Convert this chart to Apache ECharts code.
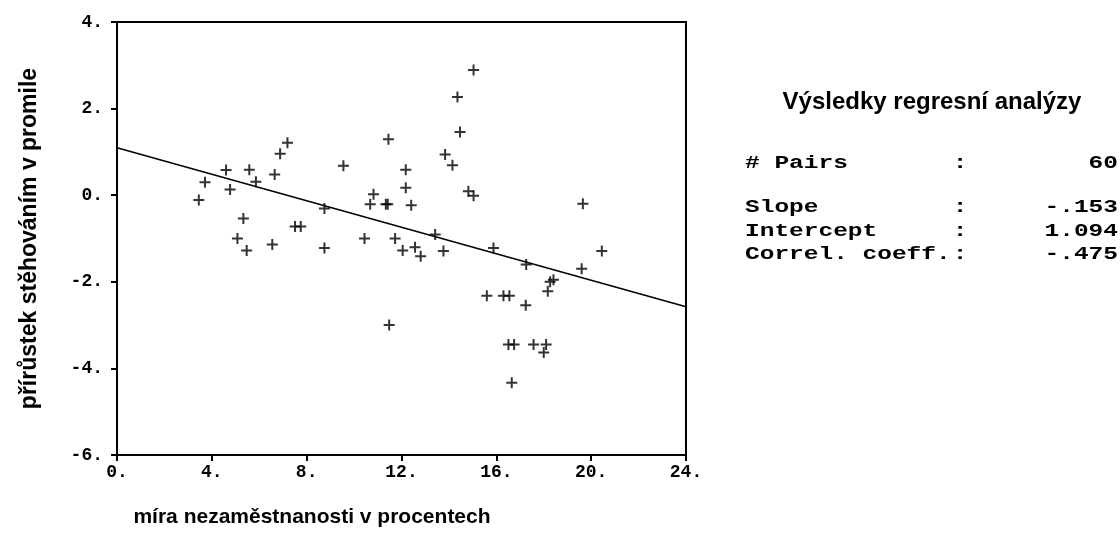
<!DOCTYPE html>
<html><head><meta charset="utf-8">
<script src="https://cdn.jsdelivr.net/npm/echarts@6/dist/echarts.min.js"></script>
<style>html,body{margin:0;padding:0;background:#fff}#c{width:1120px;height:545px}</style>
</head><body><div id="c"></div>
<script>
const xVals = [3.45,3.71,4.6,4.77,5.08,5.33,5.47,5.58,5.86,6.55,6.65,6.88,7.19,7.51,7.75,8.75,8.75,9.55,10.44,10.68,10.82,11.34,11.42,11.45,11.48,11.73,12.05,12.18,12.18,12.41,12.57,12.81,13.42,13.77,13.84,14.15,14.36,14.47,14.82,15.04,15.04,15.6,15.88,16.3,16.51,16.55,16.65,16.75,17.24,17.26,17.57,18.0,18.1,18.17,18.27,18.41,19.6,19.65,20.45];
const yVals = [-0.11,0.30,0.58,0.13,-1.0,-0.54,-1.28,0.59,0.31,-1.14,0.48,0.96,1.21,-0.72,-0.72,-0.31,-1.22,0.68,-1.0,-0.21,0.02,-0.21,-0.21,1.29,-3.0,-1.0,-1.28,0.59,0.17,-0.23,-1.2,-1.41,-0.91,-1.29,0.94,0.69,2.27,1.46,0.09,-0.01,2.89,-2.32,-1.22,-2.32,-3.45,-2.32,-4.33,-3.45,-2.54,-1.6,-3.45,-3.63,-3.45,-2.22,-2.0,-1.95,-1.7,-0.2,-1.29];
const slope = -0.153, intercept = 1.094;
const statsTitle = 'Výsledky regresní analýzy';
const statLabels = ['# Pairs', 'Slope', 'Intercept', 'Correl. coeff.'];
const statValues = ['60', '-.153', '1.094', '-.475'];
const xTitle = 'míra nezaměstnanosti v procentech';
const yTitle = 'přírůstek stěhováním v promile';

const pts = xVals.map((x,i)=>[x,yVals[i]]);
const lineData = [[0, intercept],[24, intercept + slope*24]];
const mono = '"Liberation Mono","DejaVu Sans Mono",monospace';
const sans = '"Liberation Sans",Arial,sans-serif';
const lbl = v => (v < 0 ? '-' + Math.abs(v) : String(v)) + '.';
const statY = [163, 207, 231, 254];
const SX = 1.36;
const graphics = [
  {type:'text', x:932, y:102, style:{text:statsTitle, font:'bold 24px '+sans, fill:'#000', textAlign:'center', textVerticalAlign:'middle'}},
  {type:'text', x:312, y:517, style:{text:xTitle, font:'bold 21px '+sans, fill:'#000', textAlign:'center', textVerticalAlign:'middle'}}
];
statLabels.forEach((s,i)=>{
  graphics.push({type:'text', x:745, y:statY[i], scaleX:SX, style:{text:s, font:'bold 18px '+mono, fill:'#000', textAlign:'left', textVerticalAlign:'middle'}});
  graphics.push({type:'text', x:960, y:statY[i], scaleX:SX, style:{text:':', font:'bold 18px '+mono, fill:'#000', textAlign:'center', textVerticalAlign:'middle'}});
  graphics.push({type:'text', x:1118, y:statY[i], scaleX:SX, style:{text:statValues[i], font:'bold 18px '+mono, fill:'#000', textAlign:'right', textVerticalAlign:'middle'}});
});
const chart = echarts.init(document.getElementById('c'));
chart.setOption({
  animation:false,
  backgroundColor:'#fff',
  grid:{left:117, right:434, top:22, bottom:90, show:true, borderColor:'#000', borderWidth:2, backgroundColor:'transparent'},
  xAxis:{type:'value', min:0, max:24, interval:4,
    axisLine:{show:true, onZero:false, lineStyle:{color:'#000', width:2}},
    axisTick:{show:true, length:6, lineStyle:{color:'#000', width:2}},
    splitLine:{show:false},
    axisLabel:{formatter:lbl, color:'#000', fontFamily:mono, fontWeight:'bold', fontSize:18, margin:8}
  },
  yAxis:{type:'value', min:-6, max:4, interval:2,
    name:yTitle, nameLocation:'middle', nameGap:76, nameRotate:90,
    nameTextStyle:{color:'#000', fontFamily:sans, fontWeight:'bold', fontSize:23},
    axisLine:{show:true, onZero:false, lineStyle:{color:'#000', width:2}},
    axisTick:{show:true, length:6, lineStyle:{color:'#000', width:2}},
    splitLine:{show:false},
    axisLabel:{formatter:lbl, color:'#000', fontFamily:mono, fontWeight:'bold', fontSize:18, margin:14}
  },
  graphic:graphics,
  series:[
    {type:'scatter', data:pts, symbol:'path://M0,5 L10,5 M5,0 L5,10', symbolSize:11,
     itemStyle:{color:'none', borderColor:'#000', borderWidth:2}, z:3},
    {type:'line', data:lineData, symbol:'none', lineStyle:{color:'#000', width:1.5}, z:2}
  ]
});
</script></body></html>
